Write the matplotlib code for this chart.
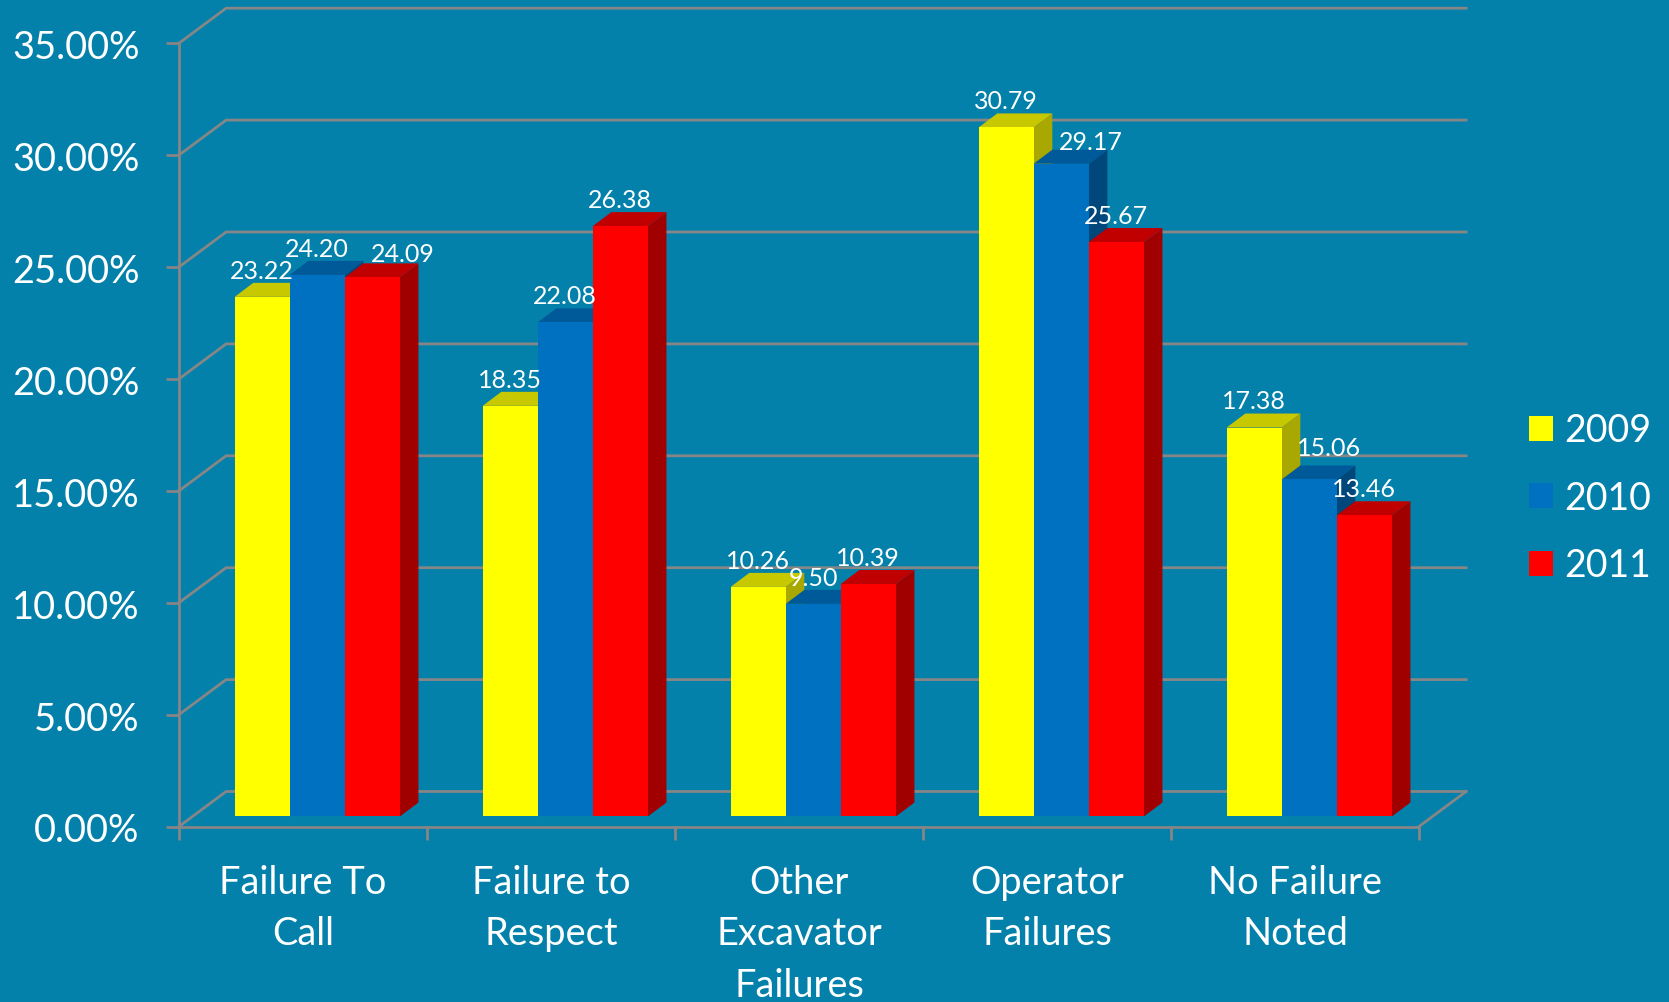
import matplotlib
matplotlib.use('Agg')
import matplotlib.pyplot as plt
from matplotlib.patches import Patch, Polygon
from matplotlib.transforms import ScaledTranslation

CATEGORIES = ['Failure To\nCall', 'Failure to\nRespect', 'Other\nExcavator\nFailures',
              'Operator\nFailures', 'No Failure\nNoted']
YEARS = ['2009', '2010', '2011']
VALUES_2009 = [23.22, 18.35, 10.26, 30.79, 17.38]
VALUES_2010 = [24.20, 22.08, 9.50, 29.17, 15.06]
VALUES_2011 = [24.09, 26.38, 10.39, 25.67, 13.46]
Y_TICKS = [0, 5, 10, 15, 20, 25, 30, 35]
Y_LABELS = ['0.00%', '5.00%', '10.00%', '15.00%', '20.00%', '25.00%', '30.00%', '35.00%']

BG = '#0381AB'
GRID = '#868686'
FRONT = ['#FFFF00', '#0070C0', '#FF0000']
TOP = ['#C8C800', '#005A9A', '#C00000']
SIDE = ['#A8A800', '#00487C', '#A00000']

# fake 3d depth, in data units
WALL_DX, WALL_DY = 0.19, 1.564
BAR_X0, BAR_Y0 = 0.2245, 0.447
BAR_W = 0.222
BAR_DX, BAR_DY = 0.075, 0.625

# labels moved by hand in the original chart (series, category): (dx, dy) points
NUDGE = {(2, 0): (22, -2), (1, 4): (14.5, 3.5), (1, 3): (21.5, -3)}

plt.rcParams['font.family'] = ['Lato', 'DejaVu Sans']

fig = plt.figure(figsize=(16.69, 10.03), dpi=100, facecolor=BG)
ax = fig.add_axes([179 / 1669, 175.5 / 1003, 1240 / 1669, 783.3 / 1003])
ax.set_facecolor('none')
ax.set_xlim(0, 5)
ax.set_ylim(0, 35)

for s in ['top', 'right']:
    ax.spines[s].set_visible(False)
for s in ['left', 'bottom']:
    ax.spines[s].set_color(GRID)
    ax.spines[s].set_linewidth(2)
    ax.spines[s].set_zorder(1)

for y in Y_TICKS:
    ax.plot([0, WALL_DX, 5 + WALL_DX], [y, y + WALL_DY, y + WALL_DY],
            color=GRID, lw=2, clip_on=False, zorder=1)
ax.plot([5, 5 + WALL_DX], [0, WALL_DY], color=GRID, lw=2, clip_on=False, zorder=1)

ax.set_yticks(Y_TICKS, Y_LABELS)
ax.set_xticks(range(6), [''] * 6)
ax.tick_params(axis='y', length=9.5, width=2, color=GRID, labelcolor='white',
               labelsize=27.4, pad=19)
ax.tick_params(axis='x', length=9.5, width=2, color=GRID)
shift = ScaledTranslation(0, -0.3 / 72, fig.dpi_scale_trans)
for t in ax.get_yticklabels():
    t.set_transform(t.get_transform() + shift)

for i, cat in enumerate(CATEGORIES):
    ax.annotate(cat, (i + 0.5, 0), xytext=(0, -27), textcoords='offset points',
                ha='center', va='top', color='white', fontsize=27.4,
                linespacing=1.53, annotation_clip=False)

series = [VALUES_2009, VALUES_2010, VALUES_2011]
z = 3
for s, vals in enumerate(series):
    for i, v in enumerate(vals):
        x0 = i + BAR_X0 + s * BAR_W
        x1 = x0 + BAR_W
        top = v + BAR_Y0
        ax.add_patch(Polygon([(x1, BAR_Y0), (x1 + BAR_DX, BAR_Y0 + BAR_DY),
                              (x1 + BAR_DX, top + BAR_DY), (x1, top)],
                             fc=SIDE[s], ec='none', zorder=z, clip_on=False))
        ax.add_patch(Polygon([(x0, top), (x1, top), (x1 + BAR_DX, top + BAR_DY),
                              (x0 + BAR_DX, top + BAR_DY)],
                             fc=TOP[s], ec='none', zorder=z, clip_on=False))
    ax.bar([i + BAR_X0 + (s + 0.5) * BAR_W for i in range(5)], vals, BAR_W,
           bottom=BAR_Y0, color=FRONT[s], zorder=z)
    z += 1

for s, vals in enumerate(series):
    for i, v in enumerate(vals):
        dx, dy = NUDGE.get((s, i), (0, 0))
        ax.annotate(f'{v:.2f}', (i + BAR_X0 + (s + 0.5) * BAR_W, v + BAR_Y0),
                    xytext=(dx, 19.2 + dy), textcoords='offset points',
                    ha='center', va='center', color='white', fontsize=18, zorder=10,
                    annotation_clip=False)

handles = [Patch(fc=c, ec='none', label=y) for c, y in zip(FRONT, YEARS)]
leg = fig.legend(handles=handles, loc='center left', bbox_to_anchor=(1529 / 1669, 1 - 499 / 1003),
                 frameon=False, fontsize=27, labelcolor='white', handlelength=0.64,
                 handleheight=0.64, handletextpad=0.3, labelspacing=0.84,
                 borderpad=0, borderaxespad=0)

fig.savefig('out.png', dpi=100, facecolor=BG)
